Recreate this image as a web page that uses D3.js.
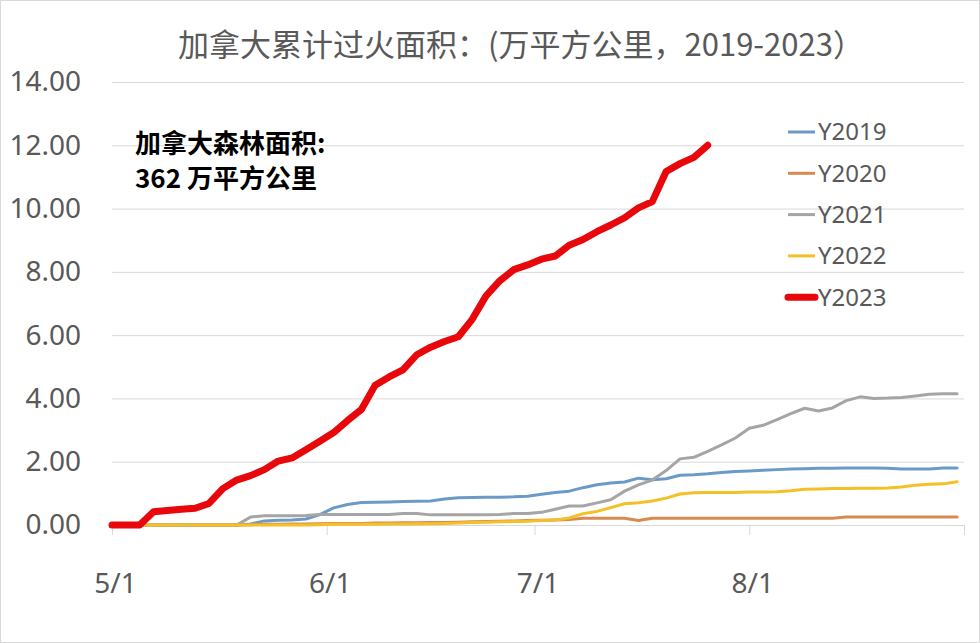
<!DOCTYPE html>
<html>
<head>
<meta charset="utf-8">
<script src="https://cdn.jsdelivr.net/npm/d3@7"></script>
<style>
  body { margin: 0; background: #fff; }
  svg { display: block; font-family: "Noto Sans", "Noto Sans CJK SC", sans-serif; }
</style>
</head>
<body>
<svg id="chart" width="980" height="643"></svg>
<script>
// Day offsets from May 1 (every 2 days)
let dayOffsets = d3.range(0, 123, 2);

let y2019 = [0, 0, 0, 0, 0, 0, 0, 0, 0, 0, 0.03, 0.13, 0.15, 0.16, 0.19, 0.33, 0.54, 0.65, 0.71, 0.72,
    0.73, 0.74, 0.75, 0.76, 0.82, 0.86, 0.87, 0.88, 0.88, 0.89, 0.91, 0.97, 1.03, 1.07, 1.18, 1.27, 1.33, 1.36, 1.48, 1.43,
    1.46, 1.57, 1.59, 1.62, 1.66, 1.69, 1.71, 1.73, 1.75, 1.77, 1.78, 1.79, 1.79, 1.8, 1.8, 1.8, 1.79, 1.77, 1.77, 1.77,
    1.8, 1.8];

let y2020 = [0, 0, 0, 0, 0, 0, 0, 0, 0, 0, 0.01, 0.02, 0.02, 0.03, 0.03, 0.04, 0.05, 0.05, 0.05, 0.06,
    0.06, 0.07, 0.07, 0.08, 0.08, 0.09, 0.1, 0.11, 0.12, 0.13, 0.14, 0.15, 0.16, 0.17, 0.21, 0.21, 0.21, 0.21, 0.14, 0.21,
    0.21, 0.21, 0.21, 0.21, 0.21, 0.21, 0.21, 0.21, 0.21, 0.21, 0.21, 0.21, 0.21, 0.25, 0.25, 0.25, 0.25, 0.25, 0.25, 0.25,
    0.25, 0.25];

let y2021 = [0, 0, 0, 0, 0, 0, 0, 0, 0, 0, 0.25, 0.29, 0.29, 0.29, 0.3, 0.33, 0.33, 0.33, 0.33, 0.33,
    0.33, 0.36, 0.36, 0.32, 0.32, 0.32, 0.32, 0.32, 0.33, 0.36, 0.36, 0.4, 0.5, 0.6, 0.6, 0.7, 0.8, 1.07, 1.27, 1.42,
    1.72, 2.09, 2.14, 2.33, 2.53, 2.75, 3.06, 3.15, 3.33, 3.52, 3.69, 3.6, 3.7, 3.93, 4.05, 4.0, 4.01, 4.03, 4.08, 4.13,
    4.15, 4.15];

let y2022 = [0, 0, 0, 0, 0, 0, 0, 0, 0, 0, 0, 0, 0, 0, 0, 0.01, 0.02, 0.02, 0.02, 0.02,
    0.03, 0.03, 0.04, 0.04, 0.05, 0.06, 0.08, 0.09, 0.1, 0.11, 0.12, 0.14, 0.16, 0.22, 0.36, 0.43, 0.55, 0.67, 0.7, 0.76,
    0.85, 0.98, 1.02, 1.03, 1.03, 1.03, 1.04, 1.04, 1.05, 1.08, 1.13, 1.14, 1.15, 1.15, 1.16, 1.16, 1.17, 1.2, 1.26, 1.29,
    1.3, 1.37];

let y2023 = [0, 0, 0, 0.42, 0.46, 0.5, 0.53, 0.68, 1.15, 1.42, 1.56, 1.75, 2.02, 2.12, 2.38, 2.65, 2.92, 3.3, 3.65, 4.42,
    4.68, 4.9, 5.38, 5.62, 5.8, 5.95, 6.5, 7.24, 7.72, 8.07, 8.22, 8.4, 8.5, 8.84, 9.02, 9.27, 9.48, 9.71, 10.02, 10.22,
    11.17, 11.42, 11.62, 12.0];

let seriesNames = ['Y2019', 'Y2020', 'Y2021', 'Y2022', 'Y2023'];
let seriesColors = ['#6A9BC8', '#D98A52', '#A5A5A5', '#F5BF26', '#E8070B'];
let seriesWidths = [3, 3, 3, 3, 7];
let seriesValues = [y2019, y2020, y2021, y2022, y2023];

let yTicks = [0, 2, 4, 6, 8, 10, 12, 14];
let xTickLabels = ['5/1', '6/1', '7/1', '8/1', ''];

let title = '加拿大累计过火面积：(万平方公里，2019-2023）';
let noteLines = ['加拿大森林面积:', '362 万平方公里'];

let startDate = new Date(2023, 4, 1);
let endDate = new Date(2023, 8, 1);

let svg = d3.select('#chart');
let margin = { top: 82, left: 112, right: 980 - 964, bottom: 643 - 525 };
let width = 980 - margin.left - margin.right;
let height = 643 - margin.top - margin.bottom;

// Outer border
svg.append('rect')
    .attr('x', 0.5).attr('y', 0.5)
    .attr('width', 979).attr('height', 642)
    .attr('fill', '#fff')
    .attr('stroke', '#d9d9d9');

let x = d3.scaleTime().domain([startDate, endDate]).range([0, width]);
let y = d3.scaleLinear().domain([0, 14]).range([height, 0]);

let g = svg.append('g').attr('transform', `translate(${margin.left},${margin.top})`);

// Gridlines
g.append('g')
    .call(d3.axisLeft(y).tickValues(yTicks.slice(1)).tickSize(-width).tickFormat(''))
    .call((s) => s.select('.domain').remove())
    .call((s) => s.selectAll('line').attr('stroke', '#d9d9d9').attr('stroke-width', 1));

// Y labels
g.append('g')
    .call(d3.axisLeft(y).tickValues(yTicks).tickSize(0).tickPadding(31).tickFormat(d3.format('.2f')))
    .call((s) => s.select('.domain').remove())
    .call((s) => s.selectAll('text')
        .attr('fill', '#595959')
        .attr('font-size', 28)
        .attr('font-family', '"Noto Sans", sans-serif'));

// X axis
let xTickValues = d3.timeMonth.range(startDate, d3.timeDay.offset(endDate, 1));
g.append('g')
    .attr('transform', `translate(0,${height})`)
    .call(d3.axisBottom(x).tickValues(xTickValues).tickSize(10).tickSizeOuter(0).tickPadding(38)
        .tickFormat((d, i) => xTickLabels[i]))
    .call((s) => s.select('.domain').attr('stroke', '#d9d9d9'))
    .call((s) => s.selectAll('line').attr('stroke', '#d9d9d9'))
    .call((s) => s.selectAll('text')
        .attr('fill', '#595959')
        .attr('font-size', 28)
        .attr('dx', 3)
        .attr('font-family', '"Noto Sans", sans-serif'));

// Lines
let line = d3.line()
    .defined((d) => d.v != null)
    .x((d) => x(d3.timeDay.offset(startDate, d.day)))
    .y((d) => y(d.v));

seriesValues.forEach((vals, i) => {
    let pts = vals.map((v, j) => ({ day: dayOffsets[j], v: v }));
    g.append('path')
        .datum(pts)
        .attr('fill', 'none')
        .attr('stroke', seriesColors[i])
        .attr('stroke-width', seriesWidths[i])
        .attr('stroke-linejoin', 'round')
        .attr('stroke-linecap', 'round')
        .attr('d', line);
});

// Title
svg.append('text')
    .attr('x', 521).attr('y', 56)
    .attr('text-anchor', 'middle')
    .attr('font-family', '"Noto Sans CJK SC", sans-serif')
    .attr('font-size', 31)
    .attr('fill', '#595959')
    .text(title);

// Note
noteLines.forEach((t, i) => {
    svg.append('text')
        .attr('x', 135).attr('y', 153 + i * 35)
        .attr('font-family', '"Noto Sans CJK SC", sans-serif')
        .attr('font-size', 26)
        .attr('font-weight', 'bold')
        .attr('fill', '#000')
        .text(t);
});

// Legend
let legend = svg.append('g');
seriesNames.forEach((name, i) => {
    let ly = 132 + i * 41.3;
    legend.append('line')
        .attr('x1', 788).attr('x2', 815)
        .attr('y1', ly).attr('y2', ly)
        .attr('stroke', seriesColors[i])
        .attr('stroke-width', seriesWidths[i])
        .attr('stroke-linecap', i === 4 ? 'round' : 'butt');
    legend.append('text')
        .attr('x', 818).attr('y', ly)
        .attr('dy', '0.35em')
        .attr('font-size', 24)
        .attr('fill', '#595959')
        .text(name);
});
</script>
</body>
</html>
